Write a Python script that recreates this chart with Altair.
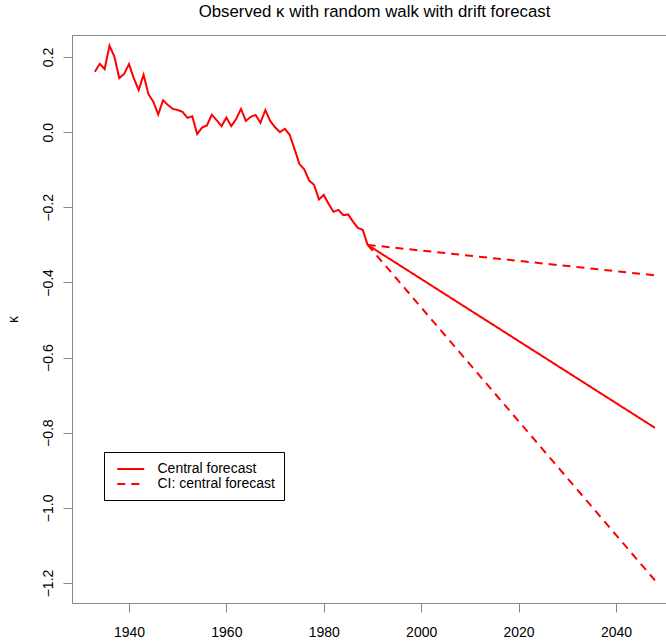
import altair as alt
import pandas as pd

# Observed kappa (period index), 1933-1989
obs_years = list(range(1933, 1990))
obs_kappa = [
    0.161, 0.182, 0.168, 0.230, 0.201, 0.144, 0.155, 0.181, 0.143, 0.112,
    0.153, 0.101, 0.081, 0.047, 0.085, 0.072, 0.062, 0.059, 0.054, 0.038,
    0.042, -0.005, 0.012, 0.018, 0.046, 0.032, 0.016, 0.039, 0.016, 0.035,
    0.062, 0.030, 0.041, 0.046, 0.025, 0.059, 0.030, 0.013, 0.000, 0.009,
    -0.007, -0.045, -0.085, -0.099, -0.129, -0.140, -0.179, -0.167, -0.191, -0.212,
    -0.207, -0.221, -0.219, -0.238, -0.255, -0.260, -0.300,
]

# Random walk with drift forecast (straight lines from the last observation)
fc_years = [1989, 2048]
fc_central = [-0.300, -0.787]
fc_upper = [-0.300, -0.381]
fc_lower = [-0.300, -1.193]

series_labels = ["Central forecast", "CI: central forecast"]
x_ticks = [1940, 1960, 1980, 2000, 2020, 2040]
y_ticks = [-1.2, -1.0, -0.8, -0.6, -0.4, -0.2, 0.0, 0.2]

FONT = "Liberation Sans"
RED = "#FF0000"

obs_df = pd.DataFrame({"year": obs_years, "kappa": obs_kappa})
fc_df = pd.concat([
    pd.DataFrame({"year": fc_years, "kappa": fc_central, "series": series_labels[0], "line": "central"}),
    pd.DataFrame({"year": fc_years, "kappa": fc_upper, "series": series_labels[1], "line": "upper"}),
    pd.DataFrame({"year": fc_years, "kappa": fc_lower, "series": series_labels[1], "line": "lower"}),
])

x_scale = alt.Scale(domain=[1928.30, 2050.27], nice=False, zero=False)
y_scale = alt.Scale(domain=[-1.2532, 0.2586], nice=False, zero=False)

y_axis = alt.Axis(
    values=y_ticks, format=".1f", labelAngle=270, labelAlign="center",
    labelBaseline="alphabetic", labelPadding=10.5, tickSize=9, grid=False,
    title="κ", titleAngle=270, titleX=-54.5, titleY=284, titleAlign="center",
    titleBaseline="alphabetic", titleFontSize=14, titleFontWeight="normal",
    titleFont=FONT, labelFont=FONT, labelFontSize=14,
)

observed = alt.Chart(obs_df).mark_line(color=RED, strokeWidth=2).encode(
    x=alt.X("year:Q", scale=x_scale, axis=alt.Axis(
        values=x_ticks, format="d", tickSize=9, labelPadding=24,
        labelBaseline="alphabetic", grid=False, title=None,
        labelFont=FONT, labelFontSize=14, orient="bottom")),
    y=alt.Y("kappa:Q", scale=y_scale, axis=y_axis),
)

forecast = alt.Chart(fc_df).mark_line(color=RED, strokeWidth=2).encode(
    x=alt.X("year:Q", scale=x_scale, axis=alt.Axis(
        orient="top", labels=False, ticks=False, domain=True, grid=False, title=None)),
    y=alt.Y("kappa:Q", scale=y_scale, axis=y_axis),
    strokeDash=alt.StrokeDash(
        "series:N",
        scale=alt.Scale(domain=series_labels, range=[[1, 0], [8, 6]]),
        legend=alt.Legend(
            orient="none", legendX=32, legendY=417, title=None,
            symbolType="M-0.556,0H3.444", symbolSize=182, symbolStrokeWidth=2,
            symbolStrokeColor=RED, labelFont=FONT, labelFontSize=14,
            labelColor="black", labelOffset=28.5, padding=9,
            strokeColor="black", fillColor="white", cornerRadius=0,
            rowPadding=0,
        ),
    ),
    detail="line:N",
)

chart = alt.layer(observed, forecast).resolve_axis(x="independent").properties(
    width=594, height=568,
    autosize=alt.AutoSizeParams(type="none"),
    padding={"left": 72, "top": 35, "right": 0, "bottom": 40},
    title=alt.TitleParams(
        "Observed κ with random walk with drift forecast",
        font=FONT, fontSize=16.8, fontWeight="normal", anchor="middle",
        frame="group", offset=14, dx=5.5, color="black",
    ),
).configure_view(stroke=None).configure_axis(
    domainColor="black", tickColor="black", labelColor="black", titleColor="black",
    domainWidth=1, tickWidth=1,
).configure(background="white")

chart.save("out.html", embed_options={"renderer": "svg", "actions": False})
